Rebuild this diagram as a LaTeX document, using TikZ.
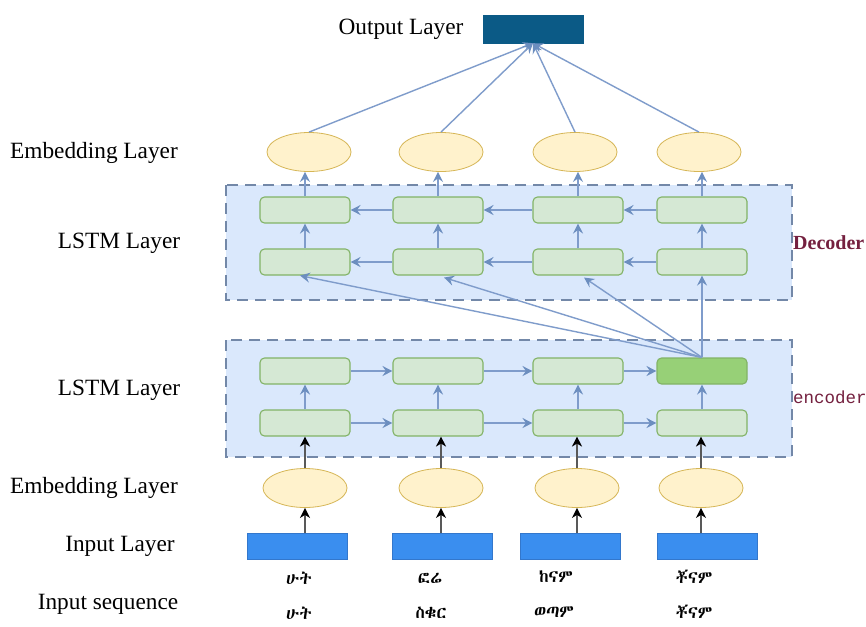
\documentclass[tikz,border=0pt]{standalone}
\usepackage{fontspec}
\setmainfont{Liberation Serif}
\setmonofont{Liberation Mono}
\IfFontExistsTF{Abyssinica SIL}{\newfontfamily\ethfont{Abyssinica SIL}}{%
  \IfFontExistsTF{FreeSerif}{\newfontfamily\ethfont{FreeSerif}}{\newcommand\ethfont{\rmfamily}}}
\usetikzlibrary{shapes.geometric,arrows.meta,calc}
\definecolor{lstmfill}{HTML}{D5E8D4}
\definecolor{lstmdraw}{HTML}{82B366}
\definecolor{lstmhi}{HTML}{97D077}
\definecolor{embfill}{HTML}{FFF2CC}
\definecolor{embdraw}{HTML}{D6B656}
\definecolor{inpfill}{HTML}{3A8EEF}
\definecolor{inpdraw}{HTML}{3377CC}
\definecolor{outfill}{HTML}{0B5A86}
\definecolor{boxfill}{HTML}{DAE8FC}
\definecolor{boxdraw}{HTML}{7388A8}
\definecolor{linec}{HTML}{7F9CCB}
\definecolor{arrowc}{HTML}{6C8EBF}
\definecolor{maroon}{HTML}{74203F}
\tikzset{
  lstm/.style={rectangle, rounded corners=4.5pt, minimum width=90pt, minimum height=26pt, inner sep=0pt, fill=lstmfill, draw=lstmdraw, line width=1.1pt},
  emb/.style={ellipse, minimum width=84pt, minimum height=39pt, inner sep=0pt, fill=embfill, draw=embdraw, line width=0.8pt},
  inp/.style={rectangle, minimum width=100pt, minimum height=26pt, inner sep=0pt, fill=inpfill, draw=inpdraw, line width=0.8pt},
  grp/.style={draw=boxdraw, fill=boxfill, line width=2.6pt, dash pattern=on 11pt off 7pt},
  arr/.style={draw=linec, line width=1.6pt, -{Stealth[length=10pt,width=10pt,inset=3.5pt,fill=arrowc,color=arrowc]}},
  thin arr/.style={draw=linec, line width=1.4pt, -{Stealth[length=10pt,width=10pt,inset=3.5pt,fill=arrowc,color=arrowc]}},
  blk/.style={draw=gray!70!black, line width=2.8pt, -{Stealth[length=10pt,width=10pt,inset=3pt,fill=black,color=black]}},
  lbl/.style={font=\fontsize{23.3}{27}\selectfont, inner sep=0pt},
  eth/.style={font=\ethfont\fontsize{17}{19}\selectfont, inner sep=0pt}
}
\begin{document}
\begin{tikzpicture}[x=1pt,y=-1pt]
\useasboundingbox[fill=white] (0,0) rectangle (866,626);
% group boxes
\path[grp] (226,185) rectangle (792,300);
\path[grp] (226,340) rectangle (792,457);
% labels
\node[lbl] (lout) at (401,29) {Output Layer};
\node[lbl] (lemb1) at (94,153) {Embedding Layer};
\node[lbl] (llstm1) at (119,243) {LSTM Layer};
\node[lbl] (llstm2) at (119,390) {LSTM Layer};
\node[lbl] (lemb2) at (94,488) {Embedding Layer};
\node[lbl] (linp) at (120,546) {Input Layer};
\node[lbl] (lseq) at (108,604) {Input sequence};
\node[font=\bfseries\fontsize{20}{23}\selectfont, text=maroon, anchor=west, inner sep=0pt] (ldec) at (793,243) {Decoder};
\node[font=\ttfamily\fontsize{17.5}{20}\selectfont, text=maroon, anchor=west, inner sep=0pt] (lenc) at (793,397) {encoder};
% output
\node[rectangle, minimum width=100pt, minimum height=28pt, inner sep=0pt, fill=outfill, draw=outfill] (out) at (533,29) {};
% top embeddings
\node[emb] (te1) at (309,152) {};
\node[emb] (te2) at (441,152) {};
\node[emb] (te3) at (575,152) {};
\node[emb] (te4) at (699,152) {};
% decoder
\foreach \i/\x in {1/305,2/438,3/578,4/702}{
  \node[lstm] (d1\i) at (\x,210) {};
  \node[lstm] (d2\i) at (\x,262) {};
}
% encoder
\foreach \i/\x in {1/305,2/438,3/578}{
  \node[lstm] (e1\i) at (\x,371) {};
}
\node[lstm, fill=lstmhi] (e14) at (702,371) {};
\foreach \i/\x in {1/305,2/438,3/578,4/702}{
  \node[lstm] (e2\i) at (\x,423) {};
}
% bottom embeddings
\node[emb] (be1) at (305,488) {};
\node[emb] (be2) at (441,488) {};
\node[emb] (be3) at (577,488) {};
\node[emb] (be4) at (701,488) {};
% input boxes
\node[inp] (in1) at (297,546) {};
\node[inp] (in2) at (442,546) {};
\node[inp] (in3) at (570,546) {};
\node[inp] (in4) at (707,546) {};
% sequence text
\node[eth] (s11) at (299,578) {ሁት};
\node[eth] (s12) at (430,578) {ፎሬ};
\node[eth] (s13) at (556,577) {ከናም};
\node[eth] (s14) at (694,577) {ቾናም};
\node[eth] (s21) at (299,613) {ሁት};
\node[eth] (s22) at (431,613) {ስቁር};
\node[eth] (s23) at (554,612) {ወጣም};
\node[eth] (s24) at (694,612) {ቾናም};
% embeddings -> output
\foreach \i in {1,2,3,4}{
  \draw[thin arr] (te\i.north) -- (out.south);
}
% decoder connections
\foreach \i in {1,2,3,4}{
  \draw[arr] (d1\i.north) -- (d1\i.north |- te\i.south);
  \draw[arr] (d2\i.north) -- (d1\i.south);
}
\foreach \a/\b in {2/1,3/2,4/3}{
  \draw[arr] (d1\a.west) -- (d1\b.east);
  \draw[arr] (d2\a.west) -- (d2\b.east);
}
% encoder connections
\foreach \a/\b in {1/2,2/3,3/4}{
  \draw[arr] (e1\a.east) -- (e1\b.west);
  \draw[arr] (e2\a.east) -- (e2\b.west);
}
\foreach \i in {1,2,3,4}{
  \draw[arr] (e2\i.north) -- (e1\i.south);
  \draw[blk] (be\i.north) -- (e2\i.south -| be\i.north);
  \draw[blk] (in\i.north -| be\i.south) -- (be\i.south);
}
% context fan
\draw[thin arr] (e14.north) -- ($(d21.south)+(-5,0)$);
\draw[thin arr] (e14.north) -- ($(d22.south)+(6,2)$);
\draw[thin arr] (e14.north) -- ($(d23.south)+(6,2)$);
\draw[arr] (e14.north) -- (d24.south);
\end{tikzpicture}
\end{document}
